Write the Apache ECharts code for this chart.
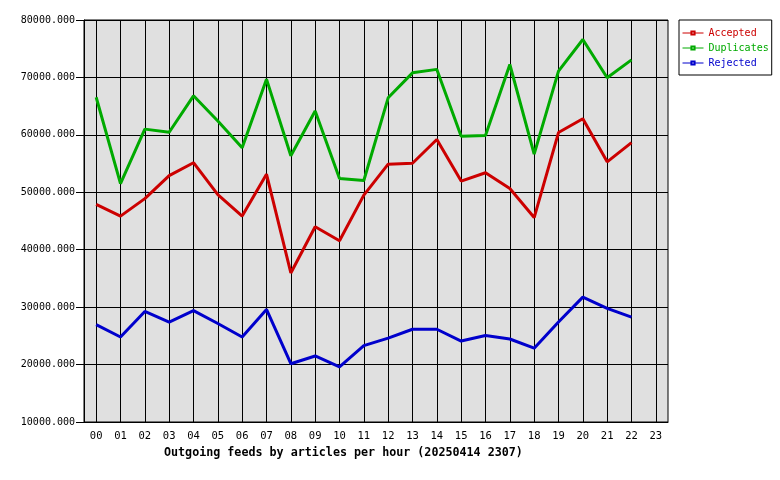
<!DOCTYPE html>
<html>
<head>
<meta charset="utf-8">
<script src="https://cdn.jsdelivr.net/npm/echarts@6/dist/echarts.min.js"></script>
<style>
html,body{margin:0;padding:0;background:#fff;}
#main{width:780px;height:480px;}
</style>
</head>
<body>
<div id="main"></div>
<script>
const hours = ['00','01','02','03','04','05','06','07','08','09','10','11','12','13','14','15','16','17','18','19','20','21','22','23'];
const accepted = [47900, 45850, 48900, 52900, 55150, 49600, 45850, 53150, 35950, 44000, 41550, 49500, 54900, 55050, 59200, 51950, 53400, 50650, 45600, 60400, 62800, 55300, 58650];
const duplicates = [66550, 51500, 61000, 60450, 66800, 62400, 57750, 69700, 56350, 64150, 52400, 52050, 66450, 70800, 71400, 59750, 59900, 72250, 56650, 71100, 76600, 69950, 73050];
const rejected = [26950, 24800, 29250, 27400, 29400, 27150, 24800, 29600, 20150, 21500, 19600, 23300, 24600, 26150, 26150, 24100, 25050, 24450, 22850, 27400, 31750, 29800, 28250];
const yTicks = {min: 10000, max: 80000, interval: 10000};
const titleText = 'Outgoing feeds by articles per hour (20250414 2307)';

const FONT = 'DejaVu Sans Mono';
const chart = echarts.init(document.getElementById('main'), null, {renderer: 'canvas'});
function mk(name, data, color) {
  return {
    name: name, type: 'line', data: data,
    symbol: 'emptyRect', symbolSize: 4, showSymbol: false,
    lineStyle: {color: color, width: 3},
    itemStyle: {color: color},
    animation: false, silent: true
  };
}
chart.setOption({
  animation: false,
  backgroundColor: '#ffffff',
  title: {
    text: titleText, left: 164, top: 447, padding: 0,
    textStyle: {fontFamily: FONT, fontSize: 11.7, fontWeight: 'bold', color: '#000'}
  },
  legend: {
    orient: 'vertical', left: 679, top: 20,
    padding: [8, 3, 7, 3],
    itemWidth: 21, itemHeight: 4, itemGap: 5,
    borderColor: '#000', borderWidth: 1, borderRadius: 0,
    backgroundColor: '#fff',
    lineStyle: {width: 1},
    itemStyle: {borderWidth: 1},
    textStyle: {fontFamily: FONT, fontSize: 10, lineHeight: 10},
    data: [
      {name: 'Accepted', textStyle: {color: '#cc0000'}},
      {name: 'Duplicates', textStyle: {color: '#00aa00'}},
      {name: 'Rejected', textStyle: {color: '#0000cc'}}
    ]
  },
  grid: {
    left: 84, right: 112, top: 20, bottom: 58,
    show: true, backgroundColor: '#e0e0e0', borderColor: '#000', borderWidth: 1,
    containLabel: false
  },
  xAxis: {
    type: 'category', data: hours, boundaryGap: true,
    axisLine: {show: true, lineStyle: {color: '#000', width: 1}},
    axisTick: {show: false},
    axisLabel: {fontFamily: FONT, fontSize: 10.5, color: '#000', margin: 9, interval: 0},
    splitLine: {show: true, alignWithLabel: true, interval: 0, lineStyle: {color: '#000', width: 1}}
  },
  yAxis: {
    type: 'value', min: yTicks.min, max: yTicks.max, interval: yTicks.interval,
    axisLine: {show: true, lineStyle: {color: '#000', width: 1}},
    axisTick: {show: true, length: 8, lineStyle: {color: '#000'}},
    axisLabel: {fontFamily: FONT, fontSize: 10, color: '#000', margin: 9,
      formatter: v => v.toFixed(3)},
    splitLine: {show: true, lineStyle: {color: '#000', width: 1}}
  },
  series: [
    mk('Accepted', accepted, '#cc0000'),
    mk('Duplicates', duplicates, '#00aa00'),
    mk('Rejected', rejected, '#0000cc')
  ]
});
</script>
</body>
</html>
